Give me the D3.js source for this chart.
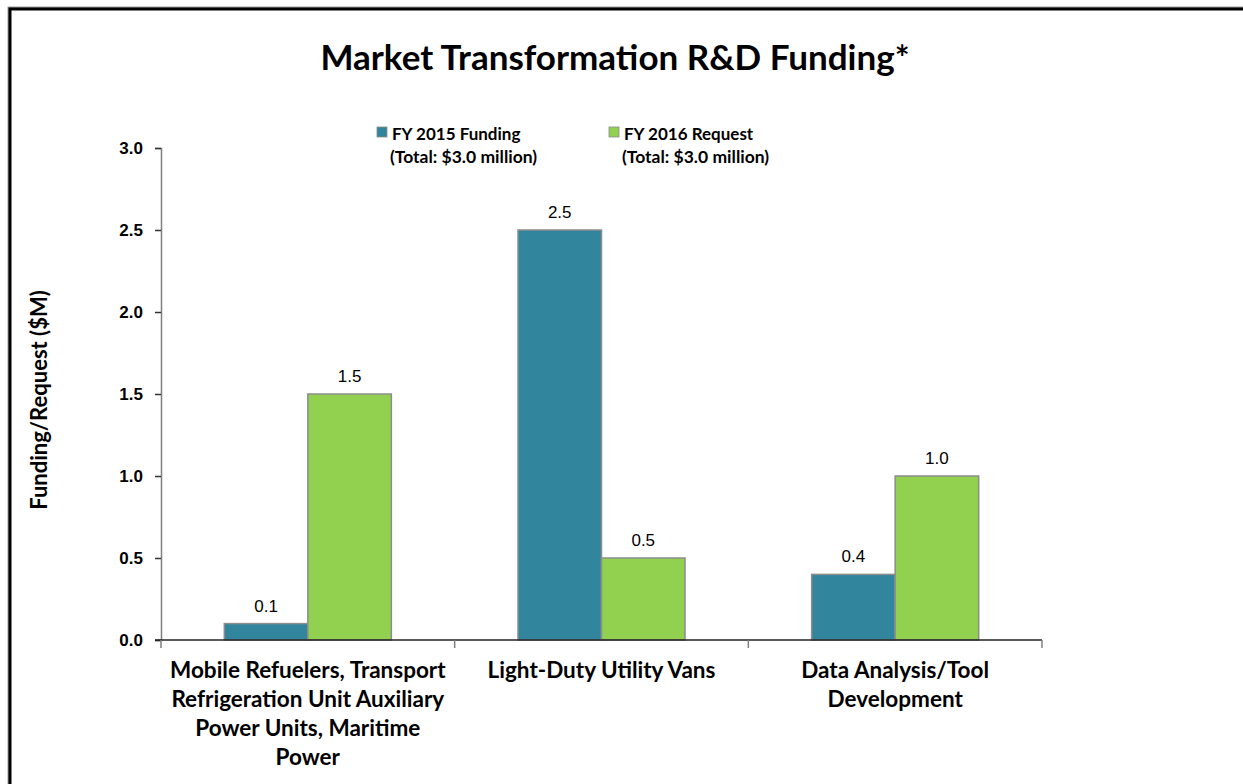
<!DOCTYPE html>
<html>
<head>
<meta charset="utf-8">
<script src="https://cdn.jsdelivr.net/npm/d3@7"></script>
<style>
  body { margin: 0; background: #fff; }
  svg { display: block; }
</style>
</head>
<body>
<div id="chart"></div>
<script>
// data
const categories = [
    "Mobile Refuelers, Transport\nRefrigeration Unit Auxiliary\nPower Units, Maritime\nPower",
    "Light-Duty Utility Vans",
    "Data Analysis/Tool\nDevelopment"
];
const seriesNames = ["FY 2015 Funding", "FY 2016 Request"];
const seriesTotals = ["(Total: $3.0 million)", "(Total: $3.0 million)"];
const fy2015 = [0.1, 2.5, 0.4];
const fy2016 = [1.5, 0.5, 1.0];
const yTicks = [0.0, 0.5, 1.0, 1.5, 2.0, 2.5, 3.0];
const colors = ["#31859C", "#92D050"];

const width = 1243, height = 784;
const margin = { left: 161, right: 201, top: 148, bottom: 144 };
const calibri = "Lato, 'Open Sans', sans-serif";
const arial = "'Liberation Sans', Arial, sans-serif";

const svg = d3.select("#chart").append("svg")
    .attr("width", width)
    .attr("height", height);

// frame (only top + left edges visible in the picture)
svg.append("rect")
    .attr("x", 8.5).attr("y", 7.5)
    .attr("width", width + 20).attr("height", height + 20)
    .attr("fill", "none").attr("stroke", "#999").attr("stroke-width", 2);
svg.append("rect")
    .attr("x", 10).attr("y", 9)
    .attr("width", width + 20).attr("height", height + 20)
    .attr("fill", "none").attr("stroke", "#000").attr("stroke-width", 3);

const x0 = d3.scaleBand()
    .domain(d3.range(categories.length))
    .range([margin.left, width - margin.right])
    .padding(0);

const x1 = d3.scaleBand()
    .domain(d3.range(seriesNames.length))
    .range([0, x0.bandwidth()])
    .paddingInner(0)
    .paddingOuter(0.758);

const y = d3.scaleLinear()
    .domain([0, 3])
    .range([height - margin.bottom, margin.top]);

// title
svg.append("text")
    .attr("x", 615).attr("y", 70)
    .attr("text-anchor", "middle")
    .style("font-family", calibri)
    .style("font-weight", "bold")
    .style("font-size", "35px")
    .text("Market Transformation R&D Funding*");

// bars
const rows = categories.map((c, i) => [fy2015[i], fy2016[i]]);
const groups = svg.append("g").selectAll("g")
    .data(rows)
    .join("g")
    .attr("transform", (d, i) => `translate(${x0(i)},0)`);

groups.selectAll("rect")
    .data(d => d.map((v, s) => ({ v, s })))
    .join("rect")
    .attr("x", d => x1(d.s))
    .attr("y", d => y(d.v))
    .attr("width", x1.bandwidth())
    .attr("height", d => y(0) - y(d.v))
    .attr("fill", d => colors[d.s])
    .attr("stroke", "#8c8c8c")
    .attr("stroke-width", 1.5);

groups.selectAll("text.val")
    .data(d => d.map((v, s) => ({ v, s })))
    .join("text")
    .attr("class", "val")
    .attr("x", d => x1(d.s) + x1.bandwidth() / 2)
    .attr("y", d => y(d.v) - 12)
    .attr("text-anchor", "middle")
    .style("font-family", arial)
    .style("font-size", "17px")
    .text(d => d3.format(".1f")(d.v));

// y axis
const yAxis = svg.append("g")
    .attr("transform", `translate(${margin.left},0)`)
    .call(d3.axisLeft(y).tickValues(yTicks).tickFormat(d3.format(".1f")).tickSize(6).tickSizeOuter(6).tickPadding(12));
yAxis.select(".domain").attr("stroke", "#7f7f7f").attr("stroke-width", 1.5);
yAxis.selectAll(".tick line").attr("stroke", "#333").attr("stroke-width", 1.5);
yAxis.selectAll(".tick text")
    .style("font-family", arial)
    .style("font-weight", "bold")
    .style("font-size", "17px")
    .attr("fill", "#000");

// x axis with tick marks on category boundaries
const xAxisG = svg.append("g")
    .attr("transform", `translate(0,${y(0)})`);
xAxisG.append("line")
    .attr("x1", margin.left - 6).attr("x2", width - margin.right)
    .attr("stroke", "#222").attr("stroke-width", 1.5);
xAxisG.selectAll("line.tk")
    .data(d3.range(categories.length + 1))
    .join("line")
    .attr("class", "tk")
    .attr("x1", i => i < categories.length ? x0(i) : x0(i - 1) + x0.bandwidth())
    .attr("x2", i => i < categories.length ? x0(i) : x0(i - 1) + x0.bandwidth())
    .attr("y1", 0).attr("y2", 8)
    .attr("stroke", "#7f7f7f").attr("stroke-width", 1.5);

// category labels
const catLabels = xAxisG.selectAll("text.cat")
    .data(categories)
    .join("text")
    .attr("class", "cat")
    .attr("text-anchor", "middle")
    .style("font-family", calibri)
    .style("font-weight", "bold")
    .style("font-size", "22.5px");
catLabels.each(function(d, i) {
    const t = d3.select(this);
    d.split("\n").forEach((line, k) => {
        t.append("tspan")
            .attr("x", x0(i) + x0.bandwidth() / 2)
            .attr("y", 38 + k * 29)
            .text(line);
    });
});

// y axis title
svg.append("text")
    .attr("transform", `translate(47,${(y(0) + y(3)) / 2 + 6}) rotate(-90)`)
    .attr("text-anchor", "middle")
    .style("font-family", calibri)
    .style("font-weight", "bold")
    .style("font-size", "22px")
    .text("Funding/Request ($M)");

// legend
const legendX = [377, 609];
const legend = svg.append("g").selectAll("g")
    .data(seriesNames)
    .join("g")
    .attr("transform", (d, i) => `translate(${legendX[i]},127)`);
legend.append("rect")
    .attr("width", 10).attr("height", 10)
    .attr("fill", (d, i) => colors[i])
    .attr("stroke", "#8c8c8c").attr("stroke-width", 0.8);
legend.append("text")
    .attr("x", 15).attr("y", 13)
    .style("font-family", calibri)
    .style("font-weight", "bold")
    .style("font-size", "17px")
    .text(d => d);
legend.append("text")
    .attr("x", 13).attr("y", 36)
    .style("font-family", calibri)
    .style("font-weight", "bold")
    .style("font-size", "17.5px")
    .text((d, i) => seriesTotals[i]);
</script>
</body>
</html>
